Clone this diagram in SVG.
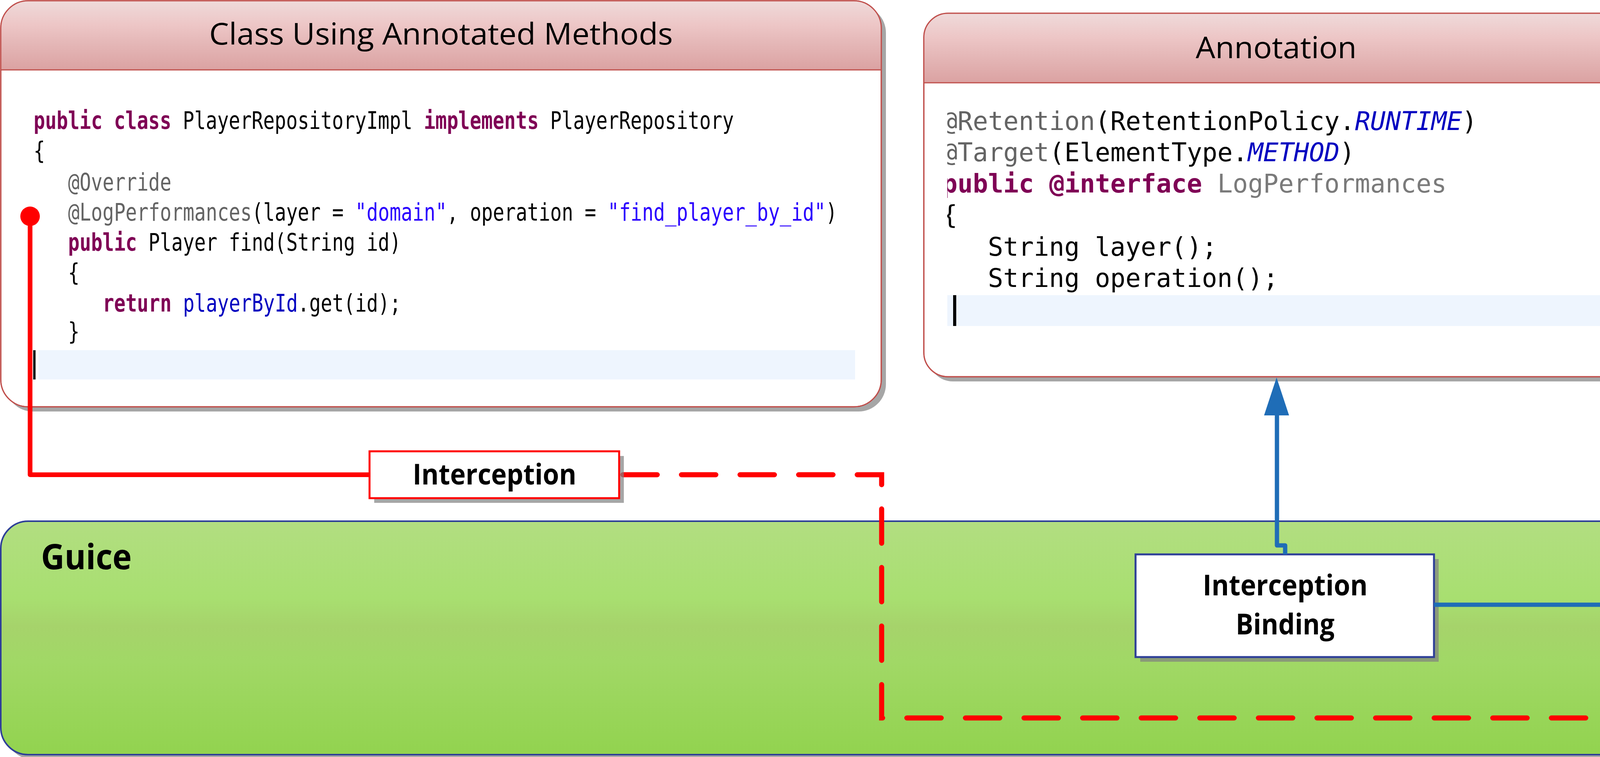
<svg xmlns="http://www.w3.org/2000/svg" width="6514" height="1939" viewBox="0 0 6514 1939">
<defs>
<linearGradient id="hdr" x1="0" y1="0" x2="0" y2="1">
<stop offset="0" stop-color="#EFDADA"/>
<stop offset="0.35" stop-color="#EDC6C6"/>
<stop offset="0.6" stop-color="#E5B8B8"/>
<stop offset="1" stop-color="#DBA2A2"/>
</linearGradient>
<linearGradient id="grn" x1="0" y1="0" x2="0" y2="1">
<stop offset="0" stop-color="#B2DE81"/>
<stop offset="0.33" stop-color="#A8DF70"/>
<stop offset="0.45" stop-color="#A6D36B"/>
<stop offset="0.6" stop-color="#A1D866"/>
<stop offset="1" stop-color="#92D34F"/>
</linearGradient>
<clipPath id="annClip"><rect x="2425" y="250" width="1745" height="700"/></clipPath>
<style>
.shadow{fill:#808080;opacity:0.7}
.box{fill:#FFFFFF;stroke:#C0504D;stroke-width:3}
.outline{fill:none;stroke:#C0504D;stroke-width:3}
.hdr{fill:url(#hdr)}
.sep{stroke:#C0504D;stroke-width:3}
.title{font-family:"Open Sans","Liberation Sans",sans-serif;font-size:76px;fill:#000;text-anchor:middle}
.lbl{font-family:"Open Sans","Liberation Sans",sans-serif;font-weight:bold;font-size:73px;fill:#000;text-anchor:middle}
.code{font-family:"DejaVu Sans Mono","Liberation Mono",monospace;fill:#000}
.kw{fill:#7F0055;font-weight:bold}
.ann{fill:#646464}
.gry{fill:#7A7A7A}
.str{fill:#2A00FF}
.fld{fill:#0000C0}
.cst{fill:#0000C0;font-style:italic}
.band{fill:#EEF5FE}
.red{fill:none;stroke:#FF0000;stroke-width:12;stroke-linejoin:round}
.reddash{fill:none;stroke:#FF0000;stroke-width:13;stroke-linecap:round;stroke-dasharray:88 62;stroke-dashoffset:-9.5}
.blue{fill:none;stroke:#1F6DB7;stroke-width:11;stroke-linejoin:round}
.arrow{fill:#1F6DB7}
</style>
</defs>

<!-- Guice container -->
<g id="node-guice">
<rect class="shadow" x="14" y="1347" width="6488" height="598" rx="70"/>
<rect x="2" y="1335" width="6488" height="598" rx="70" fill="url(#grn)" stroke="#2E3F98" stroke-width="4"/>
<text x="105" y="1458" font-family="'Open Sans','Liberation Sans',sans-serif" font-weight="bold" font-size="90" textLength="232" lengthAdjust="spacingAndGlyphs">Guice</text>
</g>

<!-- Class Using Annotated Methods -->
<g id="node-class">
<rect class="shadow" x="14" y="14" width="2254" height="1040" rx="70"/>
<rect class="box" x="2" y="2" width="2254" height="1040" rx="70"/>
<path class="hdr" d="M2,179 V72 A70,70 0 0 1 72,2 H2186 A70,70 0 0 1 2256,72 V179 Z"/>
<line class="sep" x1="2" y1="179" x2="2256" y2="179"/>
<rect class="outline" x="2" y="2" width="2254" height="1040" rx="70"/>
<text class="title" x="1129" y="114" textLength="1187" lengthAdjust="spacingAndGlyphs">Class Using Annotated Methods</text>
<rect class="band" x="98" y="897" width="2091" height="75"/>
<rect x="85" y="897" width="6" height="75" fill="#000"/>
<g transform="matrix(0.775,0,0,1,86,0)">
<text class="code" font-size="63" xml:space="preserve" x="0" y="330"><tspan class="kw">public class</tspan> PlayerRepositoryImpl <tspan class="kw">implements</tspan> PlayerRepository</text>
<text class="code" font-size="63" x="0" y="407">{</text>
<text class="code ann" font-size="63" x="114" y="488">@Override</text>
<text class="code" font-size="63" xml:space="preserve" x="114" y="565"><tspan class="ann">@LogPerformances</tspan>(layer = <tspan class="str">"domain"</tspan>, operation = <tspan class="str">"find_player_by_id"</tspan>)</text>
<text class="code" font-size="63" xml:space="preserve" x="114" y="642"><tspan class="kw">public</tspan> Player find(String id)</text>
<text class="code" font-size="63" x="114" y="719">{</text>
<text class="code" font-size="63" xml:space="preserve" x="228" y="798"><tspan class="kw">return</tspan> <tspan class="fld">playerById</tspan>.get(id);</text>
<text class="code" font-size="63" x="114" y="870">}</text>
</g>
</g>

<!-- Annotation -->
<g id="node-annotation">
<rect class="shadow" x="2377" y="46" width="1810" height="931" rx="62"/>
<rect class="box" x="2365" y="34" width="1810" height="931" rx="62"/>
<path class="hdr" d="M2365,212 V96 A62,62 0 0 1 2427,34 H4113 A62,62 0 0 1 4175,96 V212 Z"/>
<line class="sep" x1="2365" y1="212" x2="4175" y2="212"/>
<rect class="outline" x="2365" y="34" width="1810" height="931" rx="62"/>
<text class="title" x="3267" y="149" textLength="412" lengthAdjust="spacingAndGlyphs">Annotation</text>
<rect class="band" x="2425" y="756" width="1687" height="79"/>
<g clip-path="url(#annClip)">
<rect x="2440" y="756" width="8" height="79" fill="#000"/>
<text class="code" font-size="65" x="2412" y="333"><tspan class="ann">@Retention</tspan>(RetentionPolicy.<tspan class="cst">RUNTIME</tspan>)</text>
<text class="code" font-size="65" x="2412" y="413"><tspan class="ann">@Target</tspan>(ElementType.<tspan class="cst">METHOD</tspan>)</text>
<text class="code" font-size="65" xml:space="preserve" x="2412" y="493"><tspan class="kw">public @interface</tspan> <tspan class="gry">LogPerformances</tspan></text>
<text class="code" font-size="65" x="2412" y="573">{</text>
<text class="code" font-size="65" x="2529" y="655">String layer();</text>
<text class="code" font-size="65" x="2529" y="735">String operation();</text>
</g>
</g>

<!-- Method Interceptor -->
<g id="node-interceptor">
<rect class="shadow" x="4251" y="46" width="2256" height="945" rx="62"/>
<rect class="box" x="4239" y="34" width="2256" height="945" rx="62"/>
<path class="hdr" d="M4239,212 V96 A62,62 0 0 1 4301,34 H6433 A62,62 0 0 1 6495,96 V212 Z"/>
<line class="sep" x1="4239" y1="212" x2="6495" y2="212"/>
<rect class="outline" x="4239" y="34" width="2256" height="945" rx="62"/>
<text class="title" x="5365" y="149" textLength="736" lengthAdjust="spacingAndGlyphs">Method Interceptor</text>
<text class="code" font-size="52" xml:space="preserve" x="4307" y="328"><tspan class="kw">public class</tspan> LogPerformancesInterceptor <tspan class="kw">implements</tspan> MethodInterceptor</text>
<text class="code" font-size="52" x="4307" y="407">{</text>
<text class="code ann" font-size="52" x="4397" y="484">@Override</text>
<text class="code" font-size="52" xml:space="preserve" x="4397" y="561"><tspan class="kw">public</tspan> Object invoke(MethodInvocation mi) <tspan class="kw">throws</tspan> Throwable</text>
<text class="code" font-size="52" x="4397" y="642">{</text>
</g>

<!-- Guice Module -->
<g id="node-guice-module">
<rect class="shadow" x="4338" y="1409" width="2024" height="499" rx="70"/>
<rect class="box" x="4326" y="1397" width="2024" height="499" rx="70"/>
<path class="hdr" d="M4326,1578 V1467 A70,70 0 0 1 4396,1397 H6280 A70,70 0 0 1 6350,1467 V1578 Z"/>
<line class="sep" x1="4326" y1="1578" x2="6350" y2="1578"/>
<rect class="outline" x="4326" y="1397" width="2024" height="499" rx="70"/>
<text class="title" x="5336" y="1509" textLength="513" lengthAdjust="spacingAndGlyphs">Guice Module</text>
<g transform="matrix(0.885,0,0,1,4581,0)">
<text class="code" font-size="52" xml:space="preserve" x="0" y="1715"><tspan class="kw">public class</tspan> InterceptionModule <tspan class="kw">extends</tspan> AbstractModule</text>
<text class="code" font-size="52" x="0" y="1775">{</text>
</g>
</g>

<!-- Interception Binding -->
<g id="node-interception-binding">
<rect class="shadow" x="2919" y="1432" width="764" height="263"/>
<rect x="2907" y="1420" width="764" height="263" fill="#FFFFFF" stroke="#2E3F98" stroke-width="5"/>
<text class="lbl" x="3290" y="1525" textLength="422" lengthAdjust="spacingAndGlyphs">Interception</text>
<text class="lbl" x="3290" y="1625" textLength="253" lengthAdjust="spacingAndGlyphs">Binding</text>
</g>

<!-- Connectors -->
<g id="connectors">
<circle cx="77" cy="554" r="25" fill="#FF0000"/>
<path class="red" d="M77,554 V1216 H946"/>
<path class="reddash" d="M1585,1216 H2257 V1839 H4267 V1777 H4300"/>
<path class="blue" d="M3290,1420 V1397 H3269 V1058"/>
<polygon class="arrow" points="3268,967 3236,1064 3300,1064"/>
<path class="blue" d="M5336,1397 V1311 H5366 V1072"/>
<polygon class="arrow" points="5366,981 5334,1078 5398,1078"/>
<path class="blue" d="M3671,1549 H4238 V1647 H4326"/>
</g>

<!-- Interception label on connector -->
<g id="label-interception">
<rect class="shadow" x="958" y="1168" width="639" height="120"/>
<rect x="946" y="1156" width="639" height="120" fill="#FFFFFF" stroke="#FF0000" stroke-width="5"/>
<text class="lbl" x="1266" y="1241" textLength="419" lengthAdjust="spacingAndGlyphs">Interception</text>
</g>
</svg>
